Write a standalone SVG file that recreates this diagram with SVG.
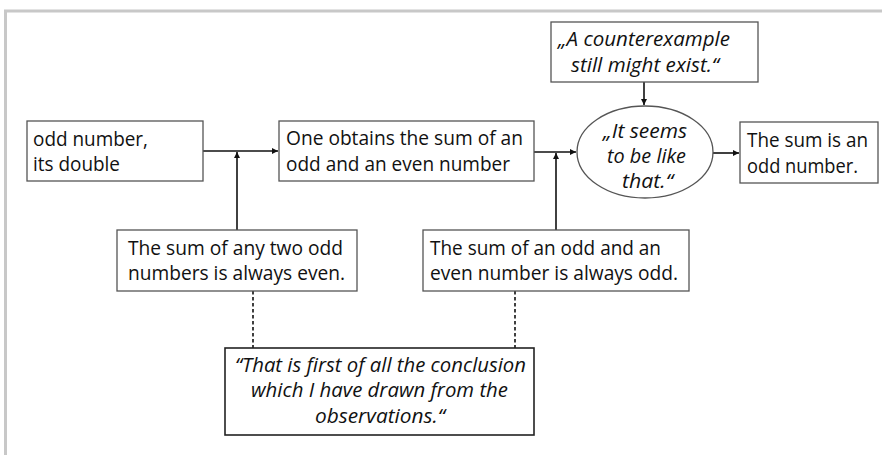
<svg xmlns="http://www.w3.org/2000/svg" width="882" height="455" viewBox="0 0 882 455">
<defs>
<marker id="ah" viewBox="0 0 10 10" refX="10" refY="5" markerWidth="6" markerHeight="6" markerUnits="userSpaceOnUse" orient="auto">
<path d="M0,0 L10,5 L0,10 z" fill="#111"/>
</marker>
<style>
.box{fill:#fff;stroke:#555;stroke-width:1.3}
.t{font-family:"Open Sans","Liberation Sans",sans-serif;font-size:20px;fill:#111}
.i{font-style:italic}
.c{stroke:#111;stroke-width:1.6;fill:none}
.d{stroke:#111;stroke-width:1.6;fill:none;stroke-dasharray:3.5,2.5}
</style>
</defs>
<rect width="882" height="455" fill="#fff"/>
<path d="M5.5,455 L5.5,11 L882,11" fill="none" stroke="#c8c8c8" stroke-width="3"/>

<g id="connectors">
<path class="c" d="M203,151 L278,151" marker-end="url(#ah)"/>
<path class="c" d="M237,230 L237,152" marker-end="url(#ah)"/>
<path class="c" d="M534,152 L576,152" marker-end="url(#ah)"/>
<path class="c" d="M556,230 L556,153" marker-end="url(#ah)"/>
<path class="c" d="M644,82 L644,105" marker-end="url(#ah)"/>
<path class="c" d="M713,153 L739,153" marker-end="url(#ah)"/>
<path class="d" d="M253,291 L253,348"/>
<path class="d" d="M515,291 L515,348"/>
</g>

<g id="n1">
<rect class="box" x="27" y="121" width="176" height="60"/>
<text class="t" x="33" y="146" textLength="115" lengthAdjust="spacingAndGlyphs">odd number,</text>
<text class="t" x="33" y="171" textLength="87" lengthAdjust="spacingAndGlyphs">its double</text>
</g>
<g id="n2">
<rect class="box" x="279" y="121" width="255" height="60"/>
<text class="t" x="286" y="145" textLength="237" lengthAdjust="spacingAndGlyphs">One obtains the sum of an</text>
<text class="t" x="286" y="171" textLength="224" lengthAdjust="spacingAndGlyphs">odd and an even number</text>
</g>
<g id="n3">
<rect class="box" x="551" y="22" width="207" height="60"/>
<text class="t i" x="558" y="46" textLength="172" lengthAdjust="spacingAndGlyphs">„A counterexample</text>
<text class="t i" x="571" y="72" textLength="148" lengthAdjust="spacingAndGlyphs">still might exist.“</text>
</g>
<g id="n4">
<ellipse class="box" cx="645" cy="152" rx="68" ry="46"/>
<text class="t i" x="603" y="138" textLength="84" lengthAdjust="spacingAndGlyphs">„It seems</text>
<text class="t i" x="607" y="163" textLength="79" lengthAdjust="spacingAndGlyphs">to be like</text>
<text class="t i" x="622" y="188" textLength="51" lengthAdjust="spacingAndGlyphs">that.“</text>
</g>
<g id="n5">
<rect class="box" x="740" y="122" width="138" height="61"/>
<text class="t" x="747" y="147" textLength="121" lengthAdjust="spacingAndGlyphs">The sum is an</text>
<text class="t" x="747" y="173" textLength="111" lengthAdjust="spacingAndGlyphs">odd number.</text>
</g>
<g id="n6">
<rect class="box" x="117" y="230" width="240" height="61"/>
<text class="t" x="128" y="255" textLength="215" lengthAdjust="spacingAndGlyphs">The sum of any two odd</text>
<text class="t" x="128" y="280" textLength="217" lengthAdjust="spacingAndGlyphs">numbers is always even.</text>
</g>
<g id="n7">
<rect class="box" x="423" y="230" width="266" height="61"/>
<text class="t" x="430" y="255" textLength="231" lengthAdjust="spacingAndGlyphs">The sum of an odd and an</text>
<text class="t" x="430" y="280" textLength="248" lengthAdjust="spacingAndGlyphs">even number is always odd.</text>
</g>
<g id="n8">
<rect class="box" x="225" y="348" width="309" height="87" style="stroke:#222;stroke-width:1.6"/>
<text class="t i" x="235" y="372" textLength="291" lengthAdjust="spacingAndGlyphs">“That is first of all the conclusion</text>
<text class="t i" x="251" y="397" textLength="257" lengthAdjust="spacingAndGlyphs">which I have drawn from the</text>
<text class="t i" x="315" y="423" textLength="130" lengthAdjust="spacingAndGlyphs">observations.“</text>
</g>
</svg>
